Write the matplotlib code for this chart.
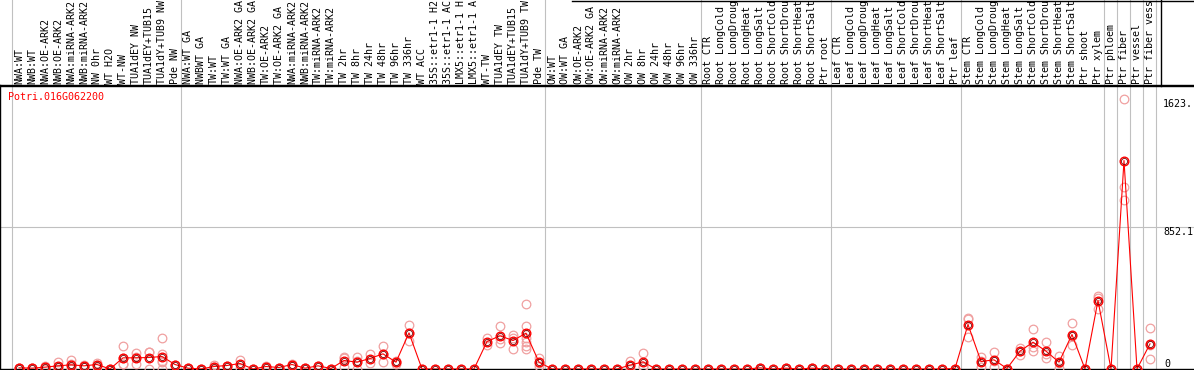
import matplotlib
matplotlib.use("Agg")
import matplotlib.pyplot as plt
from matplotlib import transforms

# sample labels, truncated the way the chart shows them
labels = [
    "NWA:WT", "NWB:WT", "NWA:OE-ARK2", "NWB:OE-ARK2", "NWA:miRNA-ARK2",
    "NWB:miRNA-ARK2", "NW 0hr", "WT H2O", "WT-NW", "TUA1dEY NW",
    "TUA1dEY+TUB15", "TUA1dY+TUB9 NW", "Pde NW",
    "NWA:WT GA", "NWBWT GA", "TW:WT", "TW:WT GA", "NWA:OE-ARK2 GA",
    "NWB:OE-ARK2 GA", "TW:OE-ARK2", "TW:OE-ARK2 GA", "NWA:miRNA-ARK2",
    "NWB:miRNA-ARK2", "TW:miRNA-ARK2", "TW:miRNA-ARK2", "TW 2hr", "TW 8hr",
    "TW 24hr", "TW 48hr", "TW 96hr", "TW 336hr", "WT ACC", "35S::etr1-1 H2",
    "35S::etr1-1 AC", "LMX5::etr1-1 H", "LMX5::etr1-1 A", "WT-TW",
    "TUA1dEY TW", "TUA1dEY+TUB15", "TUA1dY+TUB9 TW", "Pde TW",
    "OW:WT", "OW:WT GA", "OW:OE-ARK2", "OW:OE-ARK2 GA", "OW:miRNA-ARK2",
    "OW:miRNA-ARK2", "OW 2hr", "OW 8hr", "OW 24hr", "OW 48hr", "OW 96hr",
    "OW 336hr",
    "Root CTR", "Root LongCold", "Root LongDroug", "Root LongHeat",
    "Root LongSalt", "Root ShortCold", "Root ShortDrou", "Root ShortHeat",
    "Root ShortSalt", "Ptr root",
    "Leaf CTR", "Leaf LongCold", "Leaf LongDroug", "Leaf LongHeat",
    "Leaf LongSalt", "Leaf ShortCold", "Leaf ShortDrou", "Leaf ShortHeat",
    "Leaf ShortSalt", "Ptr leaf",
    "Stem CTR", "Stem LongCold", "Stem LongDroug", "Stem LongHeat",
    "Stem LongSalt", "Stem ShortCold", "Stem ShortDrou", "Stem ShortHeat",
    "Stem ShortSalt", "Ptr shoot", "Ptr xylem",
    "Ptr phloem", "Ptr fiber", "Ptr vessel", "Ptr fiber vess",
]
group_sizes = [13, 28, 12, 10, 10, 11, 1, 1, 1, 1]

means = [
    7, 5, 11, 19, 25, 19, 27, 0, 67, 67, 69, 75, 27,
    5, 0, 15, 21, 33, 0, 15, 9, 27, 5, 19, 3, 51, 41, 63, 91, 41, 217,
    0, 0, 0, 0, 0, 165, 199, 171, 215, 41,
    0, 0, 0, 0, 0, 0, 23, 43, 0, 0, 0, 0,
    0, 0, 0, 0, 7, 0, 5, 0, 5, 0,
    0, 0, 0, 0, 0, 0, 0, 0, 0, 3,
    267, 45, 55, 3, 107, 161, 107, 41, 207, 0, 411,
    0, 1251, 0, 151,
]

replicates = [
    [7, 5, 9], [5, 4, 6], [20, 13, 0], [43, 15, 0], [52, 15, 0, 33],
    [19, 15, 23], [27, 15, 39], [0, 0], [139, 31, 67, 31], [97, 31, 73],
    [105, 0, 100], [187, 91, 51, 0, 45], [27, 27],
    [5, 5], [0, 0], [15, 27, 3], [21, 20], [57, 9], [0, 0], [15, 20, 10],
    [9, 9], [27, 33, 21], [5, 5], [19, 19], [3, 3], [71, 15, 67],
    [71, 0, 51], [89, 37], [139, 45, 89], [51, 31, 41], [265, 167, 219],
    [0], [0], [0], [0], [0], [185, 145], [261, 157, 179], [207, 121, 185],
    [391, 261, 187, 165, 141, 121], [65, 21, 37],
    [0], [0], [0], [0], [0], [0], [49, 0, 20], [95, 15, 19], [0], [0],
    [0], [0],
    [0], [0], [0], [0], [7, 7], [0], [5, 5], [0], [5, 5], [0],
    [0], [0], [0], [0], [0], [0], [0], [0], [0], [3, 3],
    [305, 299, 195], [71, 15, 49], [101, 15, 49], [3, 3], [87, 107, 127],
    [241, 107, 135], [165, 67, 89], [81, 5, 37], [275, 147, 199], [0],
    [441, 429, 363],
    [0], [1623.05, 1094, 1013], [0], [247, 61, 145],
]

gene = "Potri.016G062200"

W, H = 1194, 370
GREY = "#c0c0c0"
PINK = "#f0a0a0"

plt.rcParams["font.family"] = "DejaVu Sans Mono"
plt.rcParams["font.size"] = 7.2

fig = plt.figure(figsize=(W / 100, H / 100), dpi=100)
ax = fig.add_axes([0, 1 / H, 1, 284 / H])

x = list(range(len(labels)))
ymax = max(max(r) for r in replicates)
top = ymax * 1.05
ax.set_xlim(-19 / 13, (W - 19) / 13)
ax.set_ylim(0, top)
ax.set_xticks([])
ax.set_yticks([])
ax.spines["right"].set_visible(False)
for side in ["left", "bottom", "top"]:
    ax.spines[side].set_linewidth(1.0)

# replicates
for i, reps in enumerate(replicates):
    ax.plot([i] * len(reps), reps, ls="none", marker="o", ms=6.2,
            mfc="none", mec=PINK, mew=0.9, zorder=3)

# mean line and markers
ax.plot(x, means, color="red", lw=0.8, zorder=4)
ax.plot(x, means, ls="none", marker="o", ms=6.2, mfc="none",
        mec="red", mew=1.0, zorder=5)
ax.plot(x, means, ls="none", marker="o", ms=4.4, mfc="none",
        mec="#7a0000", mew=0.6, zorder=6)

# group separators across whole figure
sep = transforms.blended_transform_factory(ax.transData, fig.transFigure)
edges = [0]
for g in group_sizes:
    edges.append(edges[-1] + g)
for e in edges:
    ax.plot([e - 0.56, e - 0.56], [0, 1], color=GREY, lw=0.8,
            transform=sep, clip_on=False, zorder=1)

ax.axhline(top / 2, color=GREY, lw=0.8, zorder=1)

# header labels
for i, lab in enumerate(labels):
    ax.text(i, 1 - 84 / H, lab, rotation=90, ha="center", va="bottom",
            transform=sep, clip_on=False)

fig.add_artist(plt.Line2D([0, 1], [1 - 85.5 / H, 1 - 85.5 / H],
                          color="black", lw=1.0))
fig.add_artist(plt.Line2D([572 / W, 1], [1 - 0.5 / H, 1 - 0.5 / H],
                          color="black", lw=1.0))
fig.add_artist(plt.Line2D([1160.5 / W, 1160.5 / W], [1 - 85.5 / H, 1],
                          color="black", lw=1.0))

# value labels on the right
yt = ax.get_yaxis_transform()
ax.text(1163 / W, ymax, "{:.2f}".format(ymax)[:5], ha="left", va="top",
        transform=yt)
ax.text(1163 / W, top / 2, "{:.2f}".format(top / 2)[:5], ha="left",
        va="top", transform=yt)
ax.text(1164 / W, 0, "0", ha="left", va="bottom", transform=yt)

ax.text(8 / W, 1 - 12 / 284, gene, color="red", ha="left", va="center",
        transform=ax.transAxes)

fig.savefig("out.png", dpi=100)
